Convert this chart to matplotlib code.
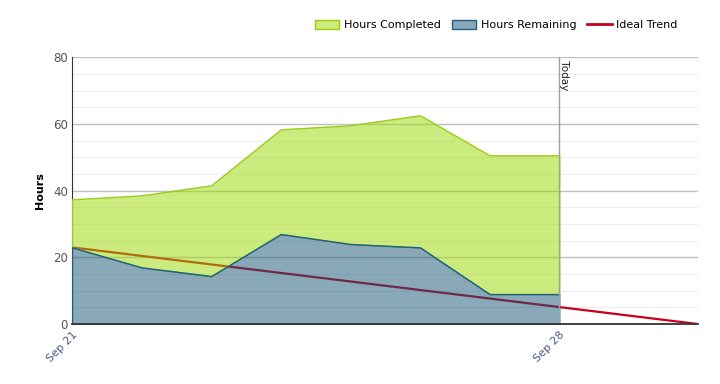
import datetime as dt
import matplotlib
matplotlib.use("Agg")
import matplotlib.pyplot as plt
import matplotlib.dates as mdates
from matplotlib.patches import Patch
from matplotlib.lines import Line2D

dates = [dt.date(2024, 9, d) for d in range(21, 29)]
hours_remaining = [23, 17, 14.4, 27, 24, 23, 9, 9]
hours_completed = [14.4, 21.6, 27.2, 31.4, 35.6, 39.6, 41.6, 41.6]
ideal_dates = [dt.date(2024, 9, 21), dt.date(2024, 9, 30)]
ideal_hours = [23, 0]
today = dt.date(2024, 9, 28)

plt.rcParams['font.family'] = ['DejaVu Sans']

fig = plt.figure(figsize=(7.2, 3.84), dpi=100)
ax = fig.add_axes([0.1, 0.156, 0.87, 0.695])

top = [r + c for r, c in zip(hours_remaining, hours_completed)]

# trend line sits under the translucent areas
ax.plot(ideal_dates, ideal_hours, color='#c8001e', lw=1.6, zorder=2)
ax.fill_between(dates, hours_remaining, top, facecolor=(0.6, 0.85, 0.0, 0.5),
                edgecolor='#9acd1a', lw=1, zorder=3)
ax.fill_between(dates, 0, hours_remaining, facecolor=(0.08, 0.32, 0.45, 0.5),
                edgecolor='#1f5f80', lw=1, zorder=3)

ax.axvline(today, color='#a0a0a0', lw=1, zorder=4)
ax.text(today, 80, ' Today', rotation=-90, ha='left', va='top', fontsize=7.5, color='#222222')

ax.set_xlim(dt.date(2024, 9, 21), dt.date(2024, 9, 30))
ax.set_ylim(0, 80)
ax.set_yticks(range(0, 81, 20))
ax.set_yticks(range(0, 81, 5), minor=True)
ax.grid(axis='y', which='major', color='#c0c0c0', lw=1, zorder=0)
ax.grid(axis='y', which='minor', color='#eeeeee', lw=0.8, zorder=0)
ax.set_axisbelow(True)

ax.set_xticks([dt.date(2024, 9, 21), dt.date(2024, 9, 28)])
ax.xaxis.set_major_formatter(mdates.DateFormatter('%b %d'))
plt.setp(ax.get_xticklabels(), rotation=45, ha='right', rotation_mode='anchor',
         color='#4a5a8a', fontsize=8)
ax.tick_params(axis='y', which='both', labelsize=8.5, labelcolor='#555555', length=0, pad=3)
ax.tick_params(axis='x', length=0, pad=4)

for s in ['top', 'right']:
    ax.spines[s].set_visible(False)
ax.spines['left'].set_color('#333333')
ax.spines['bottom'].set_color('#333333')
ax.spines['bottom'].set_linewidth(1.3)
ax.spines['bottom'].set_zorder(5)

ax.set_ylabel('Hours', fontsize=8, fontweight='bold', labelpad=6)

handles = [Patch(facecolor='#cdeb7f', edgecolor='#9acd00', lw=1),
           Patch(facecolor='#89a8b9', edgecolor='#1f5f80', lw=1),
           Line2D([0], [0], color='#c8001e', lw=2)]
fig.legend(handles, ['Hours Completed', 'Hours Remaining', 'Ideal Trend'],
           loc='upper right', bbox_to_anchor=(0.955, 0.975), ncol=3, frameon=False,
           fontsize=8, handlelength=2.2, handleheight=0.9, columnspacing=1.0,
           handletextpad=0.4)

fig.savefig('out.png', dpi=100)
